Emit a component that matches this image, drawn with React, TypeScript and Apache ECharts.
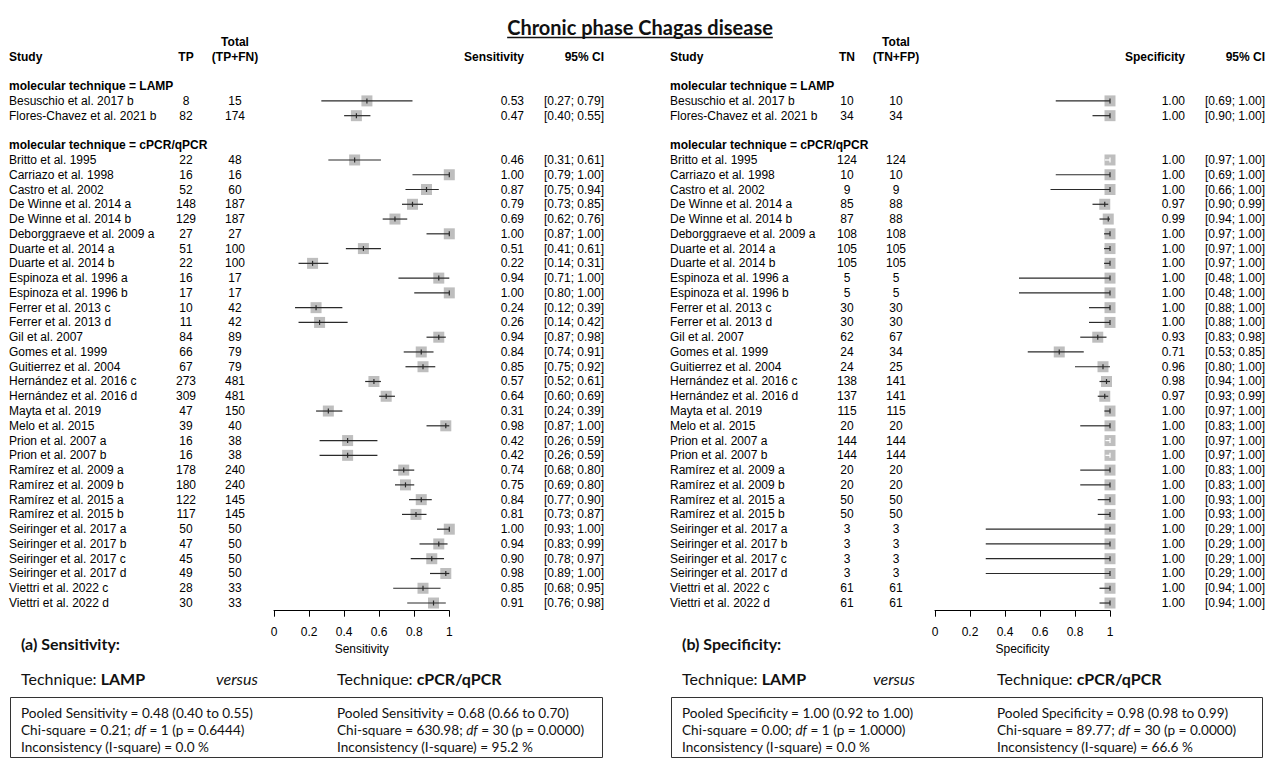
import React, { useEffect, useRef } from "react";
import * as echarts from "echarts";

// ---------------- DATA ----------------
const groupNames = ["LAMP", "cPCR/qPCR"];
const lampStudies = ["Besuschio et al. 2017 b", "Flores-Chavez et al. 2021 b"];
const pcrStudies = [
  "Britto et al. 1995", "Carriazo et al. 1998", "Castro et al. 2002", "De Winne et al. 2014 a",
  "De Winne et al. 2014 b", "Deborggraeve et al. 2009 a", "Duarte et al. 2014 a", "Duarte et al. 2014 b",
  "Espinoza et al. 1996 a", "Espinoza et al. 1996 b", "Ferrer et al. 2013 c", "Ferrer et al. 2013 d",
  "Gil et al. 2007", "Gomes et al. 1999", "Guitierrez et al. 2004", "Hernández et al. 2016 c",
  "Hernández et al. 2016 d", "Mayta et al. 2019", "Melo et al. 2015", "Prion et al. 2007 a",
  "Prion et al. 2007 b", "Ramírez et al. 2009 a", "Ramírez et al. 2009 b", "Ramírez et al. 2015 a",
  "Ramírez et al. 2015 b", "Seiringer et al. 2017 a", "Seiringer et al. 2017 b", "Seiringer et al. 2017 c",
  "Seiringer et al. 2017 d", "Viettri et al. 2022 c", "Viettri et al. 2022 d",
];

// Sensitivity panel
const lampTP = [8, 82];
const lampTPFN = [15, 174];
const lampSens = [0.53, 0.47];
const lampSensLo = [0.27, 0.4];
const lampSensHi = [0.79, 0.55];
const pcrTP = [22, 16, 52, 148, 129, 27, 51, 22, 16, 17, 10, 11, 84, 66, 67, 273, 309, 47, 39, 16, 16, 178, 180, 122, 117, 50, 47, 45, 49, 28, 30];
const pcrTPFN = [48, 16, 60, 187, 187, 27, 100, 100, 17, 17, 42, 42, 89, 79, 79, 481, 481, 150, 40, 38, 38, 240, 240, 145, 145, 50, 50, 50, 50, 33, 33];
const pcrSens = [0.46, 1.0, 0.87, 0.79, 0.69, 1.0, 0.51, 0.22, 0.94, 1.0, 0.24, 0.26, 0.94, 0.84, 0.85, 0.57, 0.64, 0.31, 0.98, 0.42, 0.42, 0.74, 0.75, 0.84, 0.81, 1.0, 0.94, 0.9, 0.98, 0.85, 0.91];
const pcrSensLo = [0.31, 0.79, 0.75, 0.73, 0.62, 0.87, 0.41, 0.14, 0.71, 0.8, 0.12, 0.14, 0.87, 0.74, 0.75, 0.52, 0.6, 0.24, 0.87, 0.26, 0.26, 0.68, 0.69, 0.77, 0.73, 0.93, 0.83, 0.78, 0.89, 0.68, 0.76];
const pcrSensHi = [0.61, 1.0, 0.94, 0.85, 0.76, 1.0, 0.61, 0.31, 1.0, 1.0, 0.39, 0.42, 0.98, 0.91, 0.92, 0.61, 0.69, 0.39, 1.0, 0.59, 0.59, 0.8, 0.8, 0.9, 0.87, 1.0, 0.99, 0.97, 1.0, 0.95, 0.98];

// Specificity panel
const lampTN = [10, 34];
const lampTNFP = [10, 34];
const lampSpec = [1.0, 1.0];
const lampSpecLo = [0.69, 0.9];
const lampSpecHi = [1.0, 1.0];
const pcrTN = [124, 10, 9, 85, 87, 108, 105, 105, 5, 5, 30, 30, 62, 24, 24, 138, 137, 115, 20, 144, 144, 20, 20, 50, 50, 3, 3, 3, 3, 61, 61];
const pcrTNFP = [124, 10, 9, 88, 88, 108, 105, 105, 5, 5, 30, 30, 67, 34, 25, 141, 141, 115, 20, 144, 144, 20, 20, 50, 50, 3, 3, 3, 3, 61, 61];
const pcrSpec = [1.0, 1.0, 1.0, 0.97, 0.99, 1.0, 1.0, 1.0, 1.0, 1.0, 1.0, 1.0, 0.93, 0.71, 0.96, 0.98, 0.97, 1.0, 1.0, 1.0, 1.0, 1.0, 1.0, 1.0, 1.0, 1.0, 1.0, 1.0, 1.0, 1.0, 1.0];
const pcrSpecLo = [0.971, 0.69, 0.66, 0.9, 0.94, 0.966, 0.966, 0.966, 0.48, 0.48, 0.88, 0.88, 0.83, 0.53, 0.8, 0.94, 0.93, 0.968, 0.83, 0.974, 0.974, 0.83, 0.83, 0.93, 0.93, 0.29, 0.29, 0.29, 0.29, 0.94, 0.94];
const pcrSpecHi = [1.0, 1.0, 1.0, 0.99, 1.0, 1.0, 1.0, 1.0, 1.0, 1.0, 1.0, 1.0, 0.98, 0.85, 1.0, 1.0, 0.99, 1.0, 1.0, 1.0, 1.0, 1.0, 1.0, 1.0, 1.0, 1.0, 1.0, 1.0, 1.0, 1.0, 1.0];

const xTicks = [0, 0.2, 0.4, 0.6, 0.8, 1];

// pooled statistics [LAMP, cPCR/qPCR]
const sensPooled = [0.48, 0.68];
const sensPooledLo = [0.4, 0.66];
const sensPooledHi = [0.55, 0.7];
const sensChi = [0.21, 630.98];
const sensDf = [1, 30];
const sensP = [0.6444, 0.0];
const sensI2 = [0.0, 95.2];
const specPooled = [1.0, 0.98];
const specPooledLo = [0.92, 0.98];
const specPooledHi = [1.0, 0.99];
const specChi = [0.0, 89.77];
const specDf = [1, 30];
const specP = [1.0, 0.0];
const specI2 = [0.0, 66.6];

// ---------------- LAYOUT / STYLE ----------------
const TFONT = "'Liberation Sans', Arial, Helvetica, sans-serif";
const CFONT = "Lato, 'Open Sans', sans-serif";
const ROW0 = -1;
const ROWMAX = 37.52;

type Row = { idx: number; kind: string; text?: string; a?: number; b?: number; est?: number; lo?: number; hi?: number };

function buildRows(
  lampA: number[], lampB: number[], lampE: number[], lampL: number[], lampH: number[],
  pcrA: number[], pcrB: number[], pcrE: number[], pcrL: number[], pcrH: number[]
): Row[] {
  const rows: Row[] = [];
  rows.push({ idx: -1, kind: "head2" });
  rows.push({ idx: 0, kind: "head" });
  rows.push({ idx: 2, kind: "group", text: "molecular technique = " + groupNames[0] });
  lampStudies.forEach((s, i) =>
    rows.push({ idx: 3 + i, kind: "study", text: s, a: lampA[i], b: lampB[i], est: lampE[i], lo: lampL[i], hi: lampH[i] })
  );
  rows.push({ idx: 6, kind: "group", text: "molecular technique = " + groupNames[1] });
  pcrStudies.forEach((s, i) =>
    rows.push({ idx: 7 + i, kind: "study", text: s, a: pcrA[i], b: pcrB[i], est: pcrE[i], lo: pcrL[i], hi: pcrH[i] })
  );
  return rows;
}

const sensRows = buildRows(lampTP, lampTPFN, lampSens, lampSensLo, lampSensHi, pcrTP, pcrTPFN, pcrSens, pcrSensLo, pcrSensHi);
const specRows = buildRows(lampTN, lampTNFP, lampSpec, lampSpecLo, lampSpecHi, pcrTN, pcrTNFP, pcrSpec, pcrSpecLo, pcrSpecHi);

function t(x: number, y: number, text: string, align: string, bold = false, size = 12, family = TFONT, fill = "#000") {
  return {
    type: "text",
    x,
    y,
    silent: true,
    style: {
      text,
      fontSize: size,
      fontFamily: family,
      fontWeight: bold ? "bold" : "normal",
      fill,
      textAlign: align,
      align,
      textVerticalAlign: "middle",
      verticalAlign: "middle",
    },
  };
}

function tableSeries(rows: Row[], gi: number, cols: any, labels: any) {
  return {
    type: "custom",
    xAxisIndex: gi,
    yAxisIndex: gi,
    silent: true,
    clip: false,
    data: rows.map((r) => [0, r.idx]),
    renderItem: (params: any, api: any) => {
      const r = rows[params.dataIndex];
      const y = api.coord([0, api.value(1)])[1];
      const ch: any[] = [];
      if (r.kind === "head2") {
        ch.push(t(cols.n2, y, "Total", "center", true));
      } else if (r.kind === "head") {
        ch.push(t(cols.name, y, "Study", "left", true));
        ch.push(t(cols.n1, y, labels.n1, "center", true));
        ch.push(t(cols.n2, y, labels.n2, "center", true));
        ch.push(t(cols.est, y, labels.est, "right", true));
        ch.push(t(cols.ci, y, "95% CI", "right", true));
      } else if (r.kind === "group") {
        ch.push(t(cols.name, y, r.text!, "left", true));
      } else {
        ch.push(t(cols.name, y, r.text!, "left"));
        ch.push(t(cols.n1, y, String(r.a), "center"));
        ch.push(t(cols.n2, y, String(r.b), "center"));
        ch.push(t(cols.est, y, r.est!.toFixed(2), "right"));
        ch.push(t(cols.ci, y, "[" + r.lo!.toFixed(2) + "; " + r.hi!.toFixed(2) + "]", "right"));
      }
      return { type: "group", children: ch };
    },
  };
}

function forestSeries(rows: Row[], gi: number) {
  const st = rows.filter((r) => r.kind === "study");
  return {
    type: "custom",
    xAxisIndex: gi,
    yAxisIndex: gi,
    silent: true,
    clip: false,
    data: st.map((r) => [r.est, r.idx, r.lo, r.hi]),
    renderItem: (params: any, api: any) => {
      const row = api.value(1);
      const [xe, y] = api.coord([api.value(0), row]);
      const xl = api.coord([api.value(2), row])[0];
      const xh = api.coord([api.value(3), row])[0];
      const half = 5.5;
      const inside = xl >= xe - half && xh <= xe + half;
      const c = inside ? "#ffffff" : "#2a2a2a";
      return {
        type: "group",
        children: [
          { type: "rect", shape: { x: xe - half, y: y - half, width: half * 2, height: half * 2 }, style: { fill: "#bebebe" } },
          { type: "line", shape: { x1: xl, y1: y, x2: xh, y2: y }, style: { stroke: c, lineWidth: 1.2 } },
          { type: "line", shape: { x1: xe, y1: y - 2.5, x2: xe, y2: y + 2.5 }, style: { stroke: c, lineWidth: 1.2 } },
        ],
      };
    },
  };
}

function xAxisDef(gi: number, name: string) {
  return {
    gridIndex: gi,
    type: "value",
    position: "bottom",
    min: 0,
    max: 1,
    interval: 0.2,
    name,
    nameLocation: "middle",
    nameGap: 30,
    nameTextStyle: { fontFamily: TFONT, fontSize: 12, color: "#000" },
    axisLine: { show: true, onZero: false, lineStyle: { color: "#000", width: 1 } },
    axisTick: { show: true, length: 6, lineStyle: { color: "#000", width: 1 } },
    axisLabel: {
      fontFamily: TFONT,
      fontSize: 12,
      color: "#000",
      margin: 15,
      formatter: (v: number) => {
        const m = xTicks.find((k) => Math.abs(k - v) < 1e-9);
        return m === undefined ? "" : String(m);
      },
    },
    splitLine: { show: false },
  };
}

function yAxisDef(gi: number) {
  return { gridIndex: gi, type: "value", inverse: true, min: ROW0, max: ROWMAX, show: false };
}

function statsGraphic(ox: number, oxR: number, oxV: number, heading: string, measure: string,
  pooled: number[], lo: number[], hi: number[], chi: number[], df: number[], p: number[], i2: number[], boxW: number) {
  const HS = 16;
  const BS = 13.6;
  const rich = {
    b: { fontWeight: "bold", fontSize: HS, fontFamily: CFONT, fill: "#111" },
    i: { fontStyle: "italic", fontSize: BS, fontFamily: CFONT, fill: "#111" },
  };
  const els: any[] = [];
  els.push(t(ox + 21, 643, heading, "left", true, HS, CFONT, "#111"));
  els.push({ type: "text", x: ox + 21, y: 678, style: { text: "Technique: {b|" + groupNames[0] + "}", rich, fontSize: HS, fontFamily: CFONT, fill: "#111", verticalAlign: "middle", textVerticalAlign: "middle" } });
  els.push({ type: "text", x: oxV, y: 678, style: { text: "versus", fontSize: HS, fontStyle: "italic", fontFamily: CFONT, fill: "#111", verticalAlign: "middle", textVerticalAlign: "middle" } });
  els.push({ type: "text", x: oxR, y: 678, style: { text: "Technique: {b|" + groupNames[1] + "}", rich, fontSize: HS, fontFamily: CFONT, fill: "#111", verticalAlign: "middle", textVerticalAlign: "middle" } });
  els.push({ type: "rect", shape: { x: ox + 10.5, y: 697.5, width: boxW, height: 60 }, style: { fill: "none", stroke: "#333", lineWidth: 1 } });
  const xs = [ox + 21, oxR];
  for (let g = 0; g < 2; g++) {
    const lines = [
      "Pooled " + measure + " = " + pooled[g].toFixed(2) + " (" + lo[g].toFixed(2) + " to " + hi[g].toFixed(2) + ")",
      "Chi-square = " + chi[g].toFixed(2) + "; {i|df} = " + df[g] + " (p = " + p[g].toFixed(4) + ")",
      "Inconsistency (I-square) = " + i2[g].toFixed(1) + " %",
    ];
    lines.forEach((ln, k) => {
      els.push({ type: "text", x: xs[g], y: 713 + k * 17, style: { text: ln, rich, fontSize: BS, fontFamily: CFONT, fill: "#111", verticalAlign: "middle", textVerticalAlign: "middle" } });
    });
  }
  return els;
}

export default function App() {
  const ref = useRef<HTMLDivElement>(null);
  useEffect(() => {
    if (!ref.current) return;
    const chart = echarts.init(ref.current, undefined, { renderer: "svg" });
    const titleText = "Chronic phase Chagas disease";
    const titleFont = "bold 20px Lato";
    let tw = 258;
    try {
      const cv = document.createElement("canvas").getContext("2d");
      if (cv) {
        cv.font = titleFont;
        tw = cv.measureText(titleText).width;
      }
    } catch (e) {}
    const graphics: any[] = [
      { type: "text", x: 640, y: 27, style: { text: titleText, fontSize: 20, fontWeight: "bold", fontFamily: CFONT, fill: "#111", textAlign: "center", align: "center", verticalAlign: "middle", textVerticalAlign: "middle" } },
      { type: "line", shape: { x1: 640 - tw / 2, y1: 37.5, x2: 640 + tw / 2, y2: 37.5 }, style: { stroke: "#111", lineWidth: 1.4 } },
      ...statsGraphic(0, 337, 216, "(a) Sensitivity:", "Sensitivity", sensPooled, sensPooledLo, sensPooledHi, sensChi, sensDf, sensP, sensI2, 592),
      ...statsGraphic(661, 997, 873, "(b) Specificity:", "Specificity", specPooled, specPooledLo, specPooledHi, specChi, specDf, specP, specI2, 591),
    ];
    const option: any = {
      animation: false,
      backgroundColor: "#fff",
      grid: [
        { left: 274, width: 175.3, top: 41.83, height: 568.87 },
        { left: 935, width: 175, top: 41.83, height: 568.87 },
      ],
      xAxis: [xAxisDef(0, "Sensitivity"), xAxisDef(1, "Specificity")],
      yAxis: [yAxisDef(0), yAxisDef(1)],
      series: [
        tableSeries(sensRows, 0, { name: 9, n1: 186, n2: 235, est: 524, ci: 604 }, { n1: "TP", n2: "(TP+FN)", est: "Sensitivity" }),
        forestSeries(sensRows, 0),
        tableSeries(specRows, 1, { name: 670, n1: 847, n2: 896, est: 1185, ci: 1265 }, { n1: "TN", n2: "(TN+FP)", est: "Specificity" }),
        forestSeries(specRows, 1),
      ],
      graphic: { elements: graphics },
    };
    chart.setOption(option);
    return () => chart.dispose();
  }, []);
  return (
    <div
      ref={ref}
      style={{ position: "fixed", left: 0, top: 0, width: 1265, height: 759, background: "#fff" }}
    />
  );
}
